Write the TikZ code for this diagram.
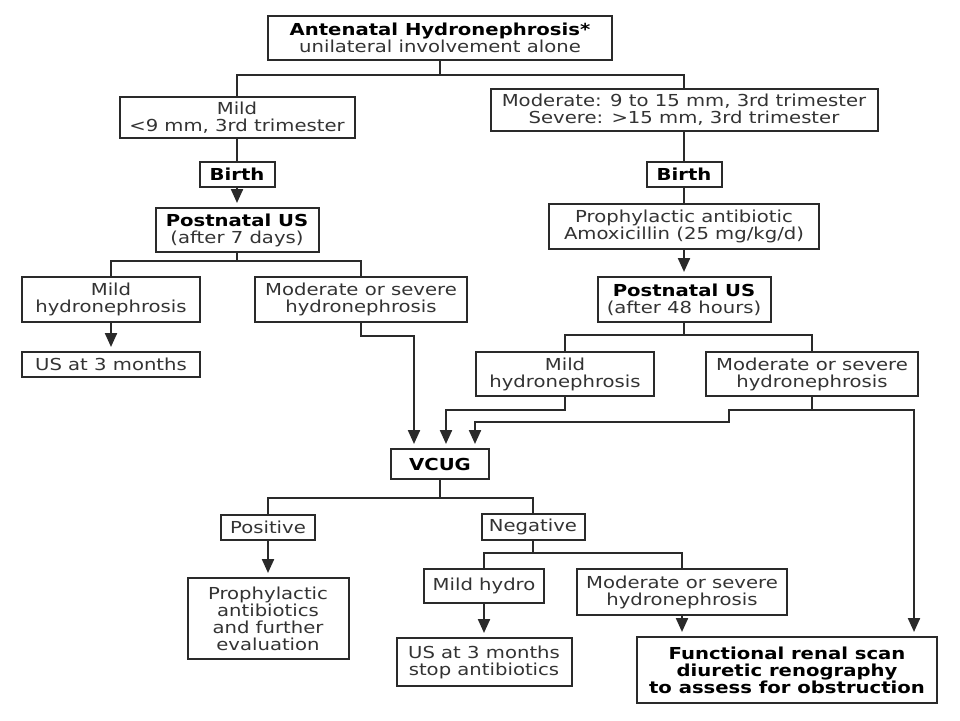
\documentclass[tikz,border=0pt]{standalone}
\usepackage{fontspec}
\setmainfont{DejaVu Sans}[FakeStretch=1.19]
\usetikzlibrary{arrows.meta,calc}
\definecolor{ln}{HTML}{2A2A2A}
\definecolor{tx}{HTML}{333333}
\begin{document}
\begin{tikzpicture}[x=1pt,y=-1pt,
  box/.style={draw=ln, line width=2pt, inner sep=0pt, align=center, text=tx,
    font=\fontsize{16.5}{17}\selectfont},
  bbox/.style={box, text=black, font=\fontsize{16.5}{17}\selectfont\bfseries},
  conn/.style={draw=ln, line width=2.2pt},
  arr/.style={conn, -{Triangle[width=12pt,length=14pt]}, shorten >=4pt}]
\fill[white] (0,0) rectangle (960,720);
\useasboundingbox (0,0) rectangle (960,720);

% nodes
\node[box, minimum width=344pt, minimum height=44pt] (top) at (440,38)
  {{\color{black}\bfseries Antenatal Hydronephrosis*}\\unilateral involvement alone};
\node[box, minimum width=235pt, minimum height=41pt] (mild) at (237,117.5)
  {Mild\\<9 mm, 3rd trimester};
\node[box, minimum width=387pt, minimum height=42pt] (mod) at (684,110)
  {Moderate: 9 to 15 mm, 3rd trimester\\Severe: >15 mm, 3rd trimester};
\node[bbox, minimum width=75pt, minimum height=25pt] (birthL) at (237,174.5) {Birth};
\node[bbox, minimum width=75pt, minimum height=25pt] (birthR) at (684,174.5) {Birth};
\node[box, minimum width=163pt, minimum height=44pt] (pusL) at (237,230)
  {{\color{black}\bfseries Postnatal US}\\(after 7 days)};
\node[box, minimum width=270pt, minimum height=45pt] (proA) at (684,226.5)
  {Prophylactic antibiotic\\Amoxicillin (25 mg/kg/d)};
\node[box, minimum width=173pt, minimum height=45pt] (pusR) at (684,299.5)
  {{\color{black}\bfseries Postnatal US}\\(after 48 hours)};
\node[box, minimum width=178pt, minimum height=45pt] (mildL) at (111,299.5)
  {Mild\\hydronephrosis};
\node[box, minimum width=212pt, minimum height=45pt] (modL) at (361,299.5)
  {Moderate or severe\\hydronephrosis};
\node[box, minimum width=178pt, minimum height=25pt] (us3) at (111,364.5)
  {US at 3 months};
\node[box, minimum width=178pt, minimum height=44pt] (mildR) at (565,374)
  {Mild\\hydronephrosis};
\node[box, minimum width=212pt, minimum height=44pt] (modR) at (812,374)
  {Moderate or severe\\hydronephrosis};
\node[bbox, minimum width=98pt, minimum height=30pt] (vcug) at (440,464) {VCUG};
\node[box, minimum width=94pt, minimum height=25pt] (pos) at (268,527.5) {Positive};
\node[box, minimum width=103pt, minimum height=26pt] (neg) at (533,527) {Negative};
\node[box, minimum width=161pt, minimum height=81pt] (proB) at (268,618.5)
  {Prophylactic\\antibiotics\\and further\\evaluation};
\node[box, minimum width=120pt, minimum height=34pt] (mildh) at (484,586) {Mild hydro};
\node[box, minimum width=210pt, minimum height=46pt] (modB) at (682,592)
  {Moderate or severe\\hydronephrosis};
\node[box, minimum width=175pt, minimum height=48pt] (usstop) at (484,662)
  {US at 3 months\\stop antibiotics};
\node[bbox, minimum width=300pt, minimum height=66pt] (func) at (787,670)
  {Functional renal scan\\diuretic renography\\to assess for obstruction};

% junction coordinates
\coordinate (j1) at ($(top.south)+(0,14)$);
\coordinate (j2) at ($(pusL.south)+(0,8)$);
\coordinate (j3) at ($(pusR.south)+(0,12)$);
\coordinate (j4) at ($(vcug.south)+(0,18)$);
\coordinate (j5) at ($(neg.south)+(0,12)$);
\coordinate (v1) at ($(vcug.north west)+(24,0)$);
\coordinate (v2) at ($(vcug.north west)+(56,0)$);
\coordinate (v3) at ($(vcug.north west)+(85,0)$);
\coordinate (f1) at ($(func.north east)+(-24,0)$);
\coordinate (k) at ($(modR.south)+(0,13)$);
\coordinate (k2) at ($(k)+(-83,12)$);

% connectors
\draw[conn] (top.south) -- (j1);
\draw[conn] (mild.north) |- (j1) -| (mod.north);
\draw[conn] (mild.south) -- (birthL.north);
\draw[arr] (birthL.south) -- (pusL.north);
\draw[conn] (mod.south) -- (birthR.north);
\draw[conn] (birthR.south) -- (proA.north);
\draw[arr] (proA.south) -- (pusR.north);

\draw[conn] (pusL.south) -- (j2);
\draw[conn] (mildL.north) |- (j2) -| (modL.north);
\draw[arr] (mildL.south) -- (us3.north);
\draw[arr] (modL.south) -- ++(0,13) -| (v1);

\draw[conn] (pusR.south) -- (j3);
\draw[conn] (mildR.north) |- (j3) -| (modR.north);
\draw[arr] (mildR.south) -- ++(0,13) -| (v2);
\draw[arr] (modR.south) -- (k) -| (f1);
\draw[arr] (k) -| (k2) -| (v3);

\draw[conn] (vcug.south) -- (j4);
\draw[conn] (pos.north) |- (j4) -| (neg.north);
\draw[arr] (pos.south) -- (proB.north);
\draw[conn] (neg.south) -- (j5);
\draw[conn] (mildh.north) |- (j5) -| (modB.north);
\draw[arr] (mildh.south) -- (usstop.north);
\draw[arr] (modB.south) -- (modB.south |- func.north);
\end{tikzpicture}
\end{document}
